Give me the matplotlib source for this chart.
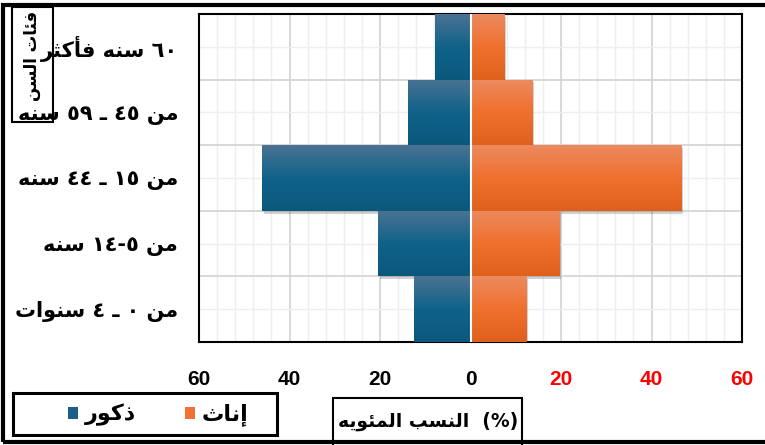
import numpy as np
import matplotlib
matplotlib.use('agg')
import matplotlib.pyplot as plt
from matplotlib.patches import Rectangle
from matplotlib.colors import LinearSegmentedColormap
import matplotlib.patheffects as pe

# data (top group first)
age_groups = ["٦٠ سنه فأكثر", "من ٤٥ ـ ٥٩ سنه", "من ١٥ ـ ٤٤ سنه", "من ٥-١٤ سنه", "من ٠ ـ ٤ سنوات"]
males = [7.8, 13.8, 46.0, 20.5, 12.4]
females = [7.4, 13.5, 46.5, 19.5, 12.3]
x_ticks = [-60, -40, -20, 0, 20, 40, 60]
male_label = "ذكور"
female_label = "إناث"
y_title = "فئات السن"
x_title = "النسب المئويه"

# --- minimal arabic shaping (matplotlib has no text layout for arabic) ---
# isolated, final, initial, medial
FORMS = {
    'ا': ('\uFE8D', '\uFE8E', None, None),
    'أ': ('\uFE83', '\uFE84', None, None),
    'إ': ('\uFE87', '\uFE88', None, None),
    'ذ': ('\uFEAB', '\uFEAC', None, None),
    'ر': ('\uFEAD', '\uFEAE', None, None),
    'و': ('\uFEED', '\uFEEE', None, None),
    'ة': ('\uFE93', '\uFE94', None, None),
    'ب': ('\uFE8F', '\uFE90', '\uFE91', '\uFE92'),
    'ت': ('\uFE95', '\uFE96', '\uFE97', '\uFE98'),
    'ث': ('\uFE99', '\uFE9A', '\uFE9B', '\uFE9C'),
    'س': ('\uFEB1', '\uFEB2', '\uFEB3', '\uFEB4'),
    'ف': ('\uFED1', '\uFED2', '\uFED3', '\uFED4'),
    'ك': ('\uFED9', '\uFEDA', '\uFEDB', '\uFEDC'),
    'ل': ('\uFEDD', '\uFEDE', '\uFEDF', '\uFEE0'),
    'م': ('\uFEE1', '\uFEE2', '\uFEE3', '\uFEE4'),
    'ن': ('\uFEE5', '\uFEE6', '\uFEE7', '\uFEE8'),
    'ه': ('\uFEE9', '\uFEEA', '\uFEEB', '\uFEEC'),
    'ي': ('\uFEF1', '\uFEF2', '\uFEF3', '\uFEF4'),
    'ئ': ('\uFE89', '\uFE8A', '\uFE8B', '\uFE8C'),
}


def shape_word(w):
    out = []
    for i, c in enumerate(w):
        if c not in FORMS:
            out.append(c)
            continue
        prev = w[i - 1] if i > 0 else ''
        nxt = w[i + 1] if i + 1 < len(w) else ''
        pj = prev in FORMS and FORMS[prev][2] is not None
        nj = FORMS[c][2] is not None and nxt in FORMS
        iso, fin, ini, med = FORMS[c]
        if pj and nj:
            out.append(med)
        elif pj:
            out.append(fin)
        elif nj:
            out.append(ini)
        else:
            out.append(iso)
    return ''.join(out)


def rtl(text):
    toks = []
    for t in text.split(' '):
        if any(ch in FORMS for ch in t):
            toks.append(shape_word(t)[::-1])
        else:
            toks.append('-'.join(t.split('-')[::-1]))
    return ' '.join(toks[::-1])


AR = ['DejaVu Sans']

fig = plt.figure(figsize=(7.65, 4.45), dpi=100)
ax = fig.add_axes([199/765, 1-342/445, 543/765, 328/445])

y = np.arange(len(age_groups))[::-1]

shadow = [pe.SimplePatchShadow(offset=(1.5, -2), shadow_rgbFace='k', alpha=0.18), pe.Normal()]
mbars = ax.barh(y, -np.array(males), height=1.0, color='#1a5f85', zorder=2, path_effects=shadow, label=male_label)
fbars = ax.barh(y, females, height=1.0, color='#f07234', zorder=2, path_effects=shadow, label=female_label)

# vertical gradients on the bars
blue_cm = LinearSegmentedColormap.from_list('b', ['#0b587c', '#10628a', '#4a7292'])
orange_cm = LinearSegmentedColormap.from_list('o', ['#e0611c', '#f0702e', '#ec8a5e'])
grad = np.linspace(0, 1, 64).reshape(-1, 1)
for bars, cm in ((mbars, blue_cm), (fbars, orange_cm)):
    for b in bars:
        x0, y0, w, h = b.get_x(), b.get_y(), b.get_width(), b.get_height()
        im = ax.imshow(grad, cmap=cm, origin='lower', aspect='auto',
                       extent=[x0, x0 + w, y0, y0 + h], zorder=3)
        im.set_clip_path(b)

ax.axvline(0, color='white', lw=1.5, zorder=4)

ax.set_xlim(-60, 60)
ax.set_ylim(-0.5, len(age_groups) - 0.5)
ax.set_aspect('auto')

ax.set_xticks(x_ticks)
ax.set_xticks(np.arange(-60, 61, 4), minor=True)
ax.set_xticklabels([str(abs(t)) for t in x_ticks], fontsize=15, fontweight='bold',
                   family='Liberation Sans')
for lbl, t in zip(ax.get_xticklabels(), x_ticks):
    lbl.set_color('red' if t > 0 else 'black')

ax.set_yticks(y)
ax.set_yticklabels([rtl(a) for a in age_groups], fontsize=15, fontweight='bold', family=AR)
ax.set_yticks(np.arange(-0.5, len(age_groups), 1.0), minor=True)

ax.tick_params(which='both', length=0)
ax.tick_params(axis='x', pad=20)
ax.tick_params(axis='y', pad=15)

ax.xaxis.grid(True, which='major', color='#d6d6d6', lw=1.3, zorder=0)
ax.xaxis.grid(True, which='minor', color='#eeeeee', lw=1.0, zorder=0)
ax.yaxis.grid(True, which='major', color='#eeeeee', lw=1.0, zorder=0)
ax.yaxis.grid(True, which='minor', color='#d6d6d6', lw=1.3, zorder=0)
ax.set_axisbelow(True)
for s in ax.spines.values():
    s.set_linewidth(1.5)

# legend, blue first from the left; frame drawn separately
fig.add_artist(Rectangle((13/765, 1-435/445), 264/765, 42/445, transform=fig.transFigure,
                         fill=False, ec='black', lw=2.2))
leg = fig.legend(handles=[mbars, fbars], labels=[rtl(male_label), rtl(female_label)],
                 loc='center', bbox_to_anchor=(158/765, 1-415/445), frameon=False,
                 ncol=2, handlelength=0.45, handleheight=0.45, handletextpad=0.3,
                 columnspacing=2.2, prop={'family': AR, 'weight': 'bold', 'size': 16})
for h in leg.legend_handles:
    h.set_path_effects([])

# x axis title box
fig.add_artist(Rectangle((333/765, 1-446/445), 189/765, 48/445, transform=fig.transFigure,
                         fill=False, ec='black', lw=1.5))
fig.text(428/765, 1-421/445, rtl(x_title) + '  (%)', ha='center', va='center',
         fontsize=13.5, fontweight='bold', family=AR)

# y axis title box
fig.add_artist(Rectangle((12/765, 1-122/445), 41/765, 115/445, transform=fig.transFigure,
                         fill=False, ec='black', lw=1.5))
fig.text(32/765, 1-56/445, rtl(y_title), rotation=90, ha='center', va='center',
         fontsize=12, fontweight='bold', family=AR)

# outer frame
fig.add_artist(Rectangle((3/765, 3/445), 1.0, 1-8/445, transform=fig.transFigure,
                         fill=False, ec='black', lw=3))

plt.savefig('out.png', dpi=100)
